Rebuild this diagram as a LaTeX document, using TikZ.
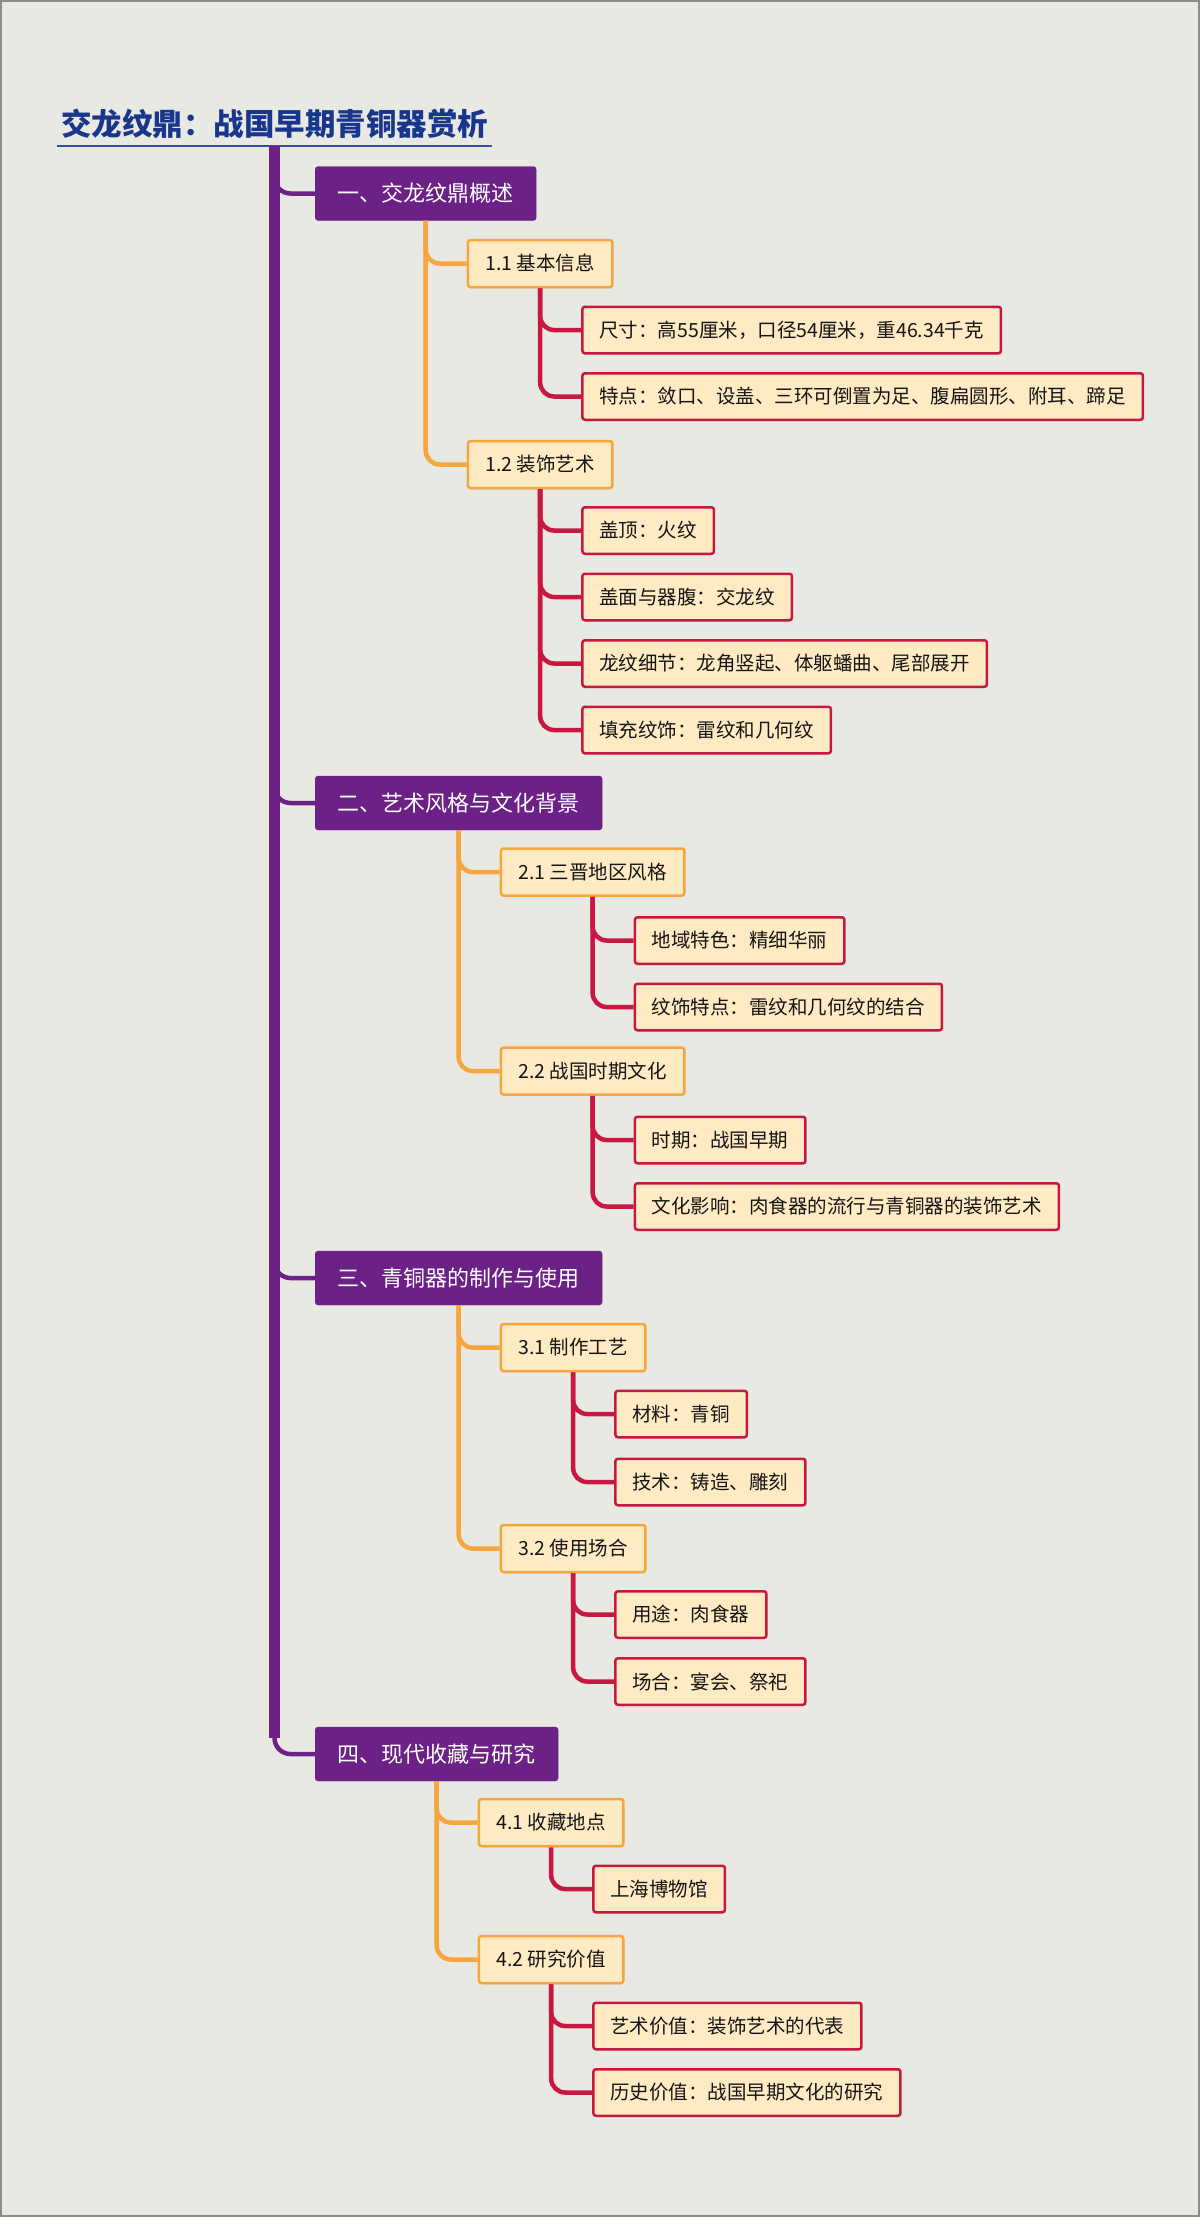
\documentclass[tikz,border=0pt]{standalone}
\usepackage{fontspec}
\setmainfont{Noto Sans CJK SC}
\usepackage{xcolor}
\definecolor{PaperGrey}{HTML}{E9E9E4}
\definecolor{FrameGrey}{HTML}{8C8C8A}
\definecolor{TitleBlue}{HTML}{17368C}
\definecolor{RuleBlue}{HTML}{3D4AA8}
\definecolor{DeepPurple}{HTML}{6B2185}
\definecolor{BranchOrange}{HTML}{F7A53D}
\definecolor{LightCream}{HTML}{FFEBC3}
\definecolor{LeafRed}{HTML}{C9183F}
\definecolor{InkBlack}{HTML}{151515}
\usepackage{tikz}
\usetikzlibrary{calc,shadows,positioning}
\newcommand\Indent{41}
\newcommand\Lift{16}
\tikzstyle{heading}=[rectangle,inner sep=0pt,text=TitleBlue,
                     minimum width=435pt,minimum height=44pt,
                     font=\fontsize{30.5}{36}\selectfont\bfseries]
\tikzstyle{section}=[rectangle,rounded corners=3pt,anchor=west,
                     fill=DeepPurple,draw=DeepPurple,text=white,
                     minimum height=54pt,inner xsep=22.5pt,
                     font=\fontsize{22}{26}\selectfont]
\tikzstyle{topic}=[rectangle,rounded corners=2.5pt,anchor=west,
                     fill=LightCream,draw=BranchOrange,line width=2.5pt,text=InkBlack,
                     minimum height=47pt,inner xsep=17.5pt,
                     drop shadow={shadow xshift=0.5pt,shadow yshift=-1.5pt,opacity=0.2},
                     font=\fontsize{19.5}{24}\selectfont]
\tikzstyle{leaf}=[rectangle,rounded corners=2.5pt,anchor=west,
                     fill=LightCream,draw=LeafRed,line width=2.5pt,text=InkBlack,
                     minimum height=46.5pt,inner xsep=17pt,
                     drop shadow={shadow xshift=0.5pt,shadow yshift=-1.5pt,opacity=0.2},
                     font=\fontsize{19.5}{24}\selectfont]
\tikzstyle{trunk}=[DeepPurple,line width=11pt]
\tikzstyle{purplewire}=[DeepPurple,line width=4.5pt,rounded corners=16pt]
\tikzstyle{orangewire}=[BranchOrange,line width=4.5pt,rounded corners=14pt]
\tikzstyle{redwire}=[LeafRed,line width=4.5pt,rounded corners=14pt]

\begin{document}
\begin{tikzpicture}[x=1pt,y=-1pt]
      % paper
      \useasboundingbox (0,0) rectangle (1200,2217);
      \fill[PaperGrey] (0,0) rectangle (1200,2217);
      \draw[FrameGrey,line width=2pt] (1,1) rectangle (1199,2216);

      % title
      \node[heading] (title) at (274.5,124) {交龙纹鼎：战国早期青铜器赏析};
      \draw[RuleBlue,line width=2.5pt] (title.south west) -- (title.south east);

      % main sections
      \node[section] (sec1) at (315,193.5) {一、交龙纹鼎概述};
      \node[section] (sec2) at (315,803) {二、艺术风格与文化背景};
      \node[section] (sec3) at (315,1278) {三、青铜器的制作与使用};
      \node[section] (sec4) at (315,1754) {四、现代收藏与研究};

      % sub topics
      \node[topic] (t11) at ($(sec1.south |- 0,263.5)+(\Indent,0)$) {1.1 基本信息};
      \node[topic] (t12) at ($(sec1.south |- 0,464.5)+(\Indent,0)$) {1.2 装饰艺术};
      \node[topic] (t21) at ($(sec2.south |- 0,872)+(\Indent,0)$) {2.1 三晋地区风格};
      \node[topic] (t22) at ($(sec2.south |- 0,1071)+(\Indent,0)$) {2.2 战国时期文化};
      \node[topic] (t31) at ($(sec3.south |- 0,1347.5)+(\Indent,0)$) {3.1 制作工艺};
      \node[topic] (t32) at ($(sec3.south |- 0,1548.5)+(\Indent,0)$) {3.2 使用场合};
      \node[topic] (t41) at ($(sec4.south |- 0,1822.5)+(\Indent,0)$) {4.1 收藏地点};
      \node[topic] (t42) at ($(sec4.south |- 0,1959.5)+(\Indent,0)$) {4.2 研究价值};

      % details
      \node[leaf] (size) at ($(t11.south |- 0,330)+(\Indent,0)$) {尺寸：高55厘米，口径54厘米，重46.34千克};
      \node[leaf] (form) at ($(t11.south |- 0,396.5)+(\Indent,0)$) {特点：敛口、设盖、三环可倒置为足、腹扁圆形、附耳、蹄足};
      \node[leaf] (lid) at ($(t12.south |- 0,530.5)+(\Indent,0)$) {盖顶：火纹};
      \node[leaf] (belly) at ($(t12.south |- 0,597)+(\Indent,0)$) {盖面与器腹：交龙纹};
      \node[leaf] (dragon) at ($(t12.south |- 0,663.5)+(\Indent,0)$) {龙纹细节：龙角竖起、体躯蟠曲、尾部展开};
      \node[leaf] (filler) at ($(t12.south |- 0,730)+(\Indent,0)$) {填充纹饰：雷纹和几何纹};
      \node[leaf] (region) at ($(t21.south |- 0,940.5)+(\Indent,0)$) {地域特色：精细华丽};
      \node[leaf] (motif) at ($(t21.south |- 0,1007)+(\Indent,0)$) {纹饰特点：雷纹和几何纹的结合};
      \node[leaf] (period) at ($(t22.south |- 0,1140)+(\Indent,0)$) {时期：战国早期};
      \node[leaf] (impact) at ($(t22.south |- 0,1206.5)+(\Indent,0)$) {文化影响：肉食器的流行与青铜器的装饰艺术};
      \node[leaf] (metal) at ($(t31.south |- 0,1414)+(\Indent,0)$) {材料：青铜};
      \node[leaf] (craft) at ($(t31.south |- 0,1482)+(\Indent,0)$) {技术：铸造、雕刻};
      \node[leaf] (usage) at ($(t32.south |- 0,1614.5)+(\Indent,0)$) {用途：肉食器};
      \node[leaf] (occasion) at ($(t32.south |- 0,1681.5)+(\Indent,0)$) {场合：宴会、祭祀};
      \node[leaf] (museum) at ($(t41.south |- 0,1889)+(\Indent,0)$) {上海博物馆};
      \node[leaf] (artval) at ($(t42.south |- 0,2026)+(\Indent,0)$) {艺术价值：装饰艺术的代表};
      \node[leaf] (histval) at ($(t42.south |- 0,2092.5)+(\Indent,0)$) {历史价值：战国早期文化的研究};

      % connectors
      \draw[trunk] (title.south) -- ($(title.south |- sec4.west)+(0,-\Lift)$);
      \foreach \s in {sec1,sec2,sec3,sec4}
         \draw[purplewire] (title.south) |- (\s.west);
      \foreach \p/\c in {sec1/t11,sec1/t12,sec2/t21,sec2/t22,sec3/t31,sec3/t32,sec4/t41,sec4/t42}
         \draw[orangewire] (\p.south) |- (\c.west);
      \foreach \p/\c in {t11/size,t11/form,t12/lid,t12/belly,t12/dragon,t12/filler,
                         t21/region,t21/motif,t22/period,t22/impact,t31/metal,t31/craft,
                         t32/usage,t32/occasion,t41/museum,t42/artval,t42/histval}
         \draw[redwire] (\p.south) |- (\c.west);
\end{tikzpicture}
\end{document}
